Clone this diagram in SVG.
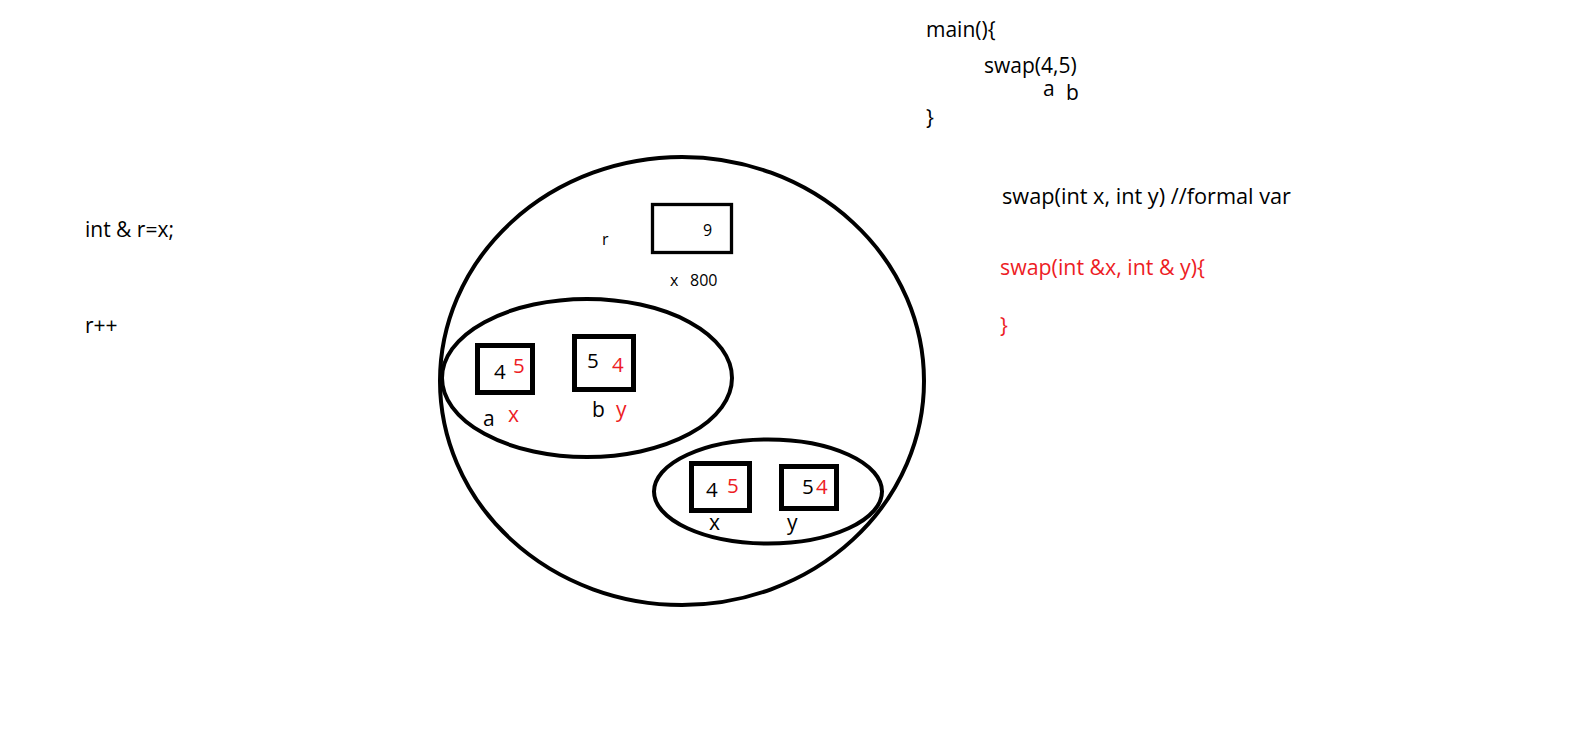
<svg xmlns="http://www.w3.org/2000/svg" width="1594" height="746" viewBox="0 0 1594 746">
<style>
text{font-family:"Open Sans","Noto Sans","Liberation Sans",sans-serif;fill:#000}
.t{font-size:21px}
.d{font-size:20.5px}
.s{font-size:16px}
.red{fill:#ED1C24}
.ring{fill:none;stroke:#000;stroke-width:4}
.box{fill:none;stroke:#000;stroke-width:5}
.thin{fill:none;stroke:#000;stroke-width:3.3}
</style>
<rect width="1594" height="746" fill="#fff"/>
<g id="code-left">
<text class="t" x="85" y="237">int &amp; r=x;</text>
<text class="t" x="85" y="333">r++</text>
</g>
<g id="code-right">
<text class="t" x="926" y="37">main(){</text>
<text class="t" x="984" y="73">swap(4,5)</text>
<text class="t" x="1043" y="96">a</text>
<text class="t" x="1066" y="100">b</text>
<text class="t" x="926" y="125">}</text>
<text class="t" x="1002" y="204" textLength="289" lengthAdjust="spacingAndGlyphs">swap(int x, int y)  //formal var</text>
<text class="t red" x="1000" y="275" textLength="205" lengthAdjust="spacingAndGlyphs">swap(int &amp;x, int &amp; y){</text>
<text class="t red" x="1000" y="333">}</text>
</g>
<g id="memory">
<ellipse class="ring" cx="682" cy="381" rx="242" ry="224"/>
</g>
<g id="ref-r">
<rect class="thin" x="652.5" y="204.5" width="79" height="48"/>
<text class="s" x="703" y="236">9</text>
<text class="s" x="602" y="245">r</text>
<text class="s" x="670" y="286">x</text>
<text class="s" x="690" y="286">800</text>
</g>
<g id="main-scope">
<ellipse class="ring" cx="587" cy="378" rx="145" ry="79"/>
</g>
<g id="var-a">
<rect class="box" x="477.5" y="345.5" width="55" height="47"/>
<text class="d" x="494" y="379">4</text>
<text class="d red" x="513" y="373">5</text>
<text class="t" x="483" y="426">a</text>
<text class="t red" x="508" y="422">x</text>
</g>
<g id="var-b">
<rect class="box" x="574.5" y="336.5" width="59" height="53"/>
<text class="d" x="587" y="368">5</text>
<text class="d red" x="612" y="372">4</text>
<text class="t" x="592" y="417">b</text>
<text class="t red" x="616" y="417">y</text>
</g>
<g id="swap-scope">
<ellipse class="ring" cx="768" cy="491.5" rx="114" ry="52"/>
</g>
<g id="var-x">
<rect class="box" x="691.5" y="463.5" width="58" height="47"/>
<text class="d" x="706" y="497">4</text>
<text class="d red" x="727" y="493">5</text>
<text class="t" x="709" y="530">x</text>
</g>
<g id="var-y">
<rect class="box" x="781.5" y="466.5" width="55" height="42"/>
<text class="d" x="802" y="494">5</text>
<text class="d red" x="816" y="494">4</text>
<text class="t" x="787" y="530">y</text>
</g>
<g id="connectors"></g>
</svg>
